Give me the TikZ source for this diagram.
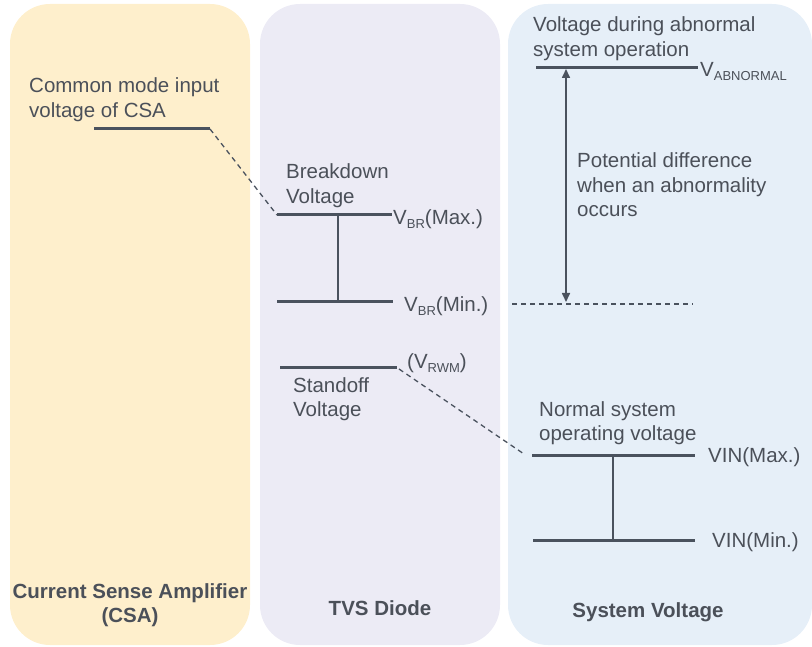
\documentclass[tikz,border=0pt]{standalone}
\usepackage{fontspec}
\setmainfont{Liberation Sans}
\usetikzlibrary{arrows.meta}
\definecolor{txt}{HTML}{4B5059}
\definecolor{ln}{HTML}{4A525E}
\definecolor{csafill}{HTML}{FEEFCC}
\definecolor{tvsfill}{HTML}{ECEBF5}
\definecolor{sysfill}{HTML}{E6EFF8}
\newcommand{\mysub}[1]{\raisebox{-0.35ex}{\fontsize{13}{13}\selectfont #1}}
\tikzset{
  panel/.style={rounded corners=40pt, draw=none},
  lbl/.style={font=\fontsize{20.5}{24.5}\selectfont, text=txt, inner sep=0pt, align=left, anchor=base west},
  title/.style={font=\bfseries\fontsize{20.5}{24.5}\selectfont, text=txt, inner sep=0pt, align=center, anchor=base},
  level/.style={draw=ln, line width=3pt},
  bar/.style={draw=ln, line width=1.6pt},
  dline/.style={draw=ln, line width=1.3pt, dash pattern=on 5pt off 4pt},
}
\begin{document}
\begin{tikzpicture}[x=1pt,y=-1pt]
\useasboundingbox (0,0) rectangle (812,647);
% panels
\path[panel, fill=csafill] (10,4) rectangle (250,645);
\path[panel, fill=tvsfill] (260,4) rectangle (500,645);
\path[panel, fill=sysfill] (508,4) rectangle (812,645);

% CSA (multi-line nodes: base anchor = baseline of last line)
\node[lbl] (csatxt) at (29,117.5) {Common mode input\\voltage of CSA};
\coordinate (csaL) at (94,129);
\coordinate (csaR) at (210,129);
\draw[level] (csaL) -- (csaR);
\node[title] (csatitle) at (130,622.5) {Current Sense Amplifier\\(CSA)};

% TVS
\node[lbl] (bdtxt) at (286,203.5) {Breakdown\\Voltage};
\coordinate (bmaxL) at (277,215);
\coordinate (bmaxR) at (392,215);
\draw[level] (bmaxL) -- (bmaxR);
\node[lbl] (bmaxlbl) at (393,225) {V\mysub{BR}(Max.)};
\coordinate (bminL) at (277,302);
\coordinate (bminR) at (393,302);
\draw[level] (bminL) -- (bminR);
\node[lbl] (bminlbl) at (404,312) {V\mysub{BR}(Min.)};
\coordinate (bmaxM) at (338,215);
\coordinate (bminM) at (338,302);
\draw[bar] (bmaxM) -- (bminM);
\coordinate (rwmL) at (280,367);
\coordinate (rwmR) at (397,367);
\draw[level] (rwmL) -- (rwmR);
\node[lbl] (rwmlbl) at (407,369) {(V\mysub{RWM})};
\node[lbl] (sotxt) at (293,416.5) {Standoff\\Voltage};
\node[title] (tvstitle) at (380,615) {TVS Diode};

% System
\node[lbl] (abtxt) at (533,56.5) {Voltage during abnormal\\system operation};
\coordinate (abL) at (536,68);
\coordinate (abR) at (698,68);
\draw[level] (abL) -- (abR);
\node[lbl] (ablbl) at (700,77) {V\mysub{ABNORMAL}};
\coordinate (arT) at (566,69);
\coordinate (arB) at (566,302);
\draw[bar, {Triangle[width=8pt,length=9pt]}-{Triangle[width=8pt,length=9pt]}] (arT) -- (arB);
\node[lbl] (pdtxt) at (577,217) {Potential difference\\when an abnormality\\occurs};
\coordinate (dhL) at (512,304);
\coordinate (dhR) at (693,304);
\draw[dline] (dhL) -- (dhR);
\node[lbl] (nstxt) at (539,440.5) {Normal system\\operating voltage};
\coordinate (vmaxL) at (532,455);
\coordinate (vmaxR) at (695,455);
\draw[level] (vmaxL) -- (vmaxR);
\node[lbl] (vmaxlbl) at (708,462) {VIN(Max.)};
\coordinate (vminL) at (533,540);
\coordinate (vminR) at (695,540);
\draw[level] (vminL) -- (vminR);
\node[lbl] (vminlbl) at (712,547) {VIN(Min.)};
\coordinate (vmaxM) at (613,455);
\coordinate (vminM) at (613,540);
\draw[bar] (vmaxM) -- (vminM);
\node[title] (systitle) at (648,617) {System Voltage};

% dashed connectors
\draw[dline] (csaR) -- (bmaxL);
\coordinate (rwmD) at (399,369);
\coordinate (vmaxD) at (524,454);
\draw[dline] (rwmD) -- (vmaxD);
\end{tikzpicture}
\end{document}
